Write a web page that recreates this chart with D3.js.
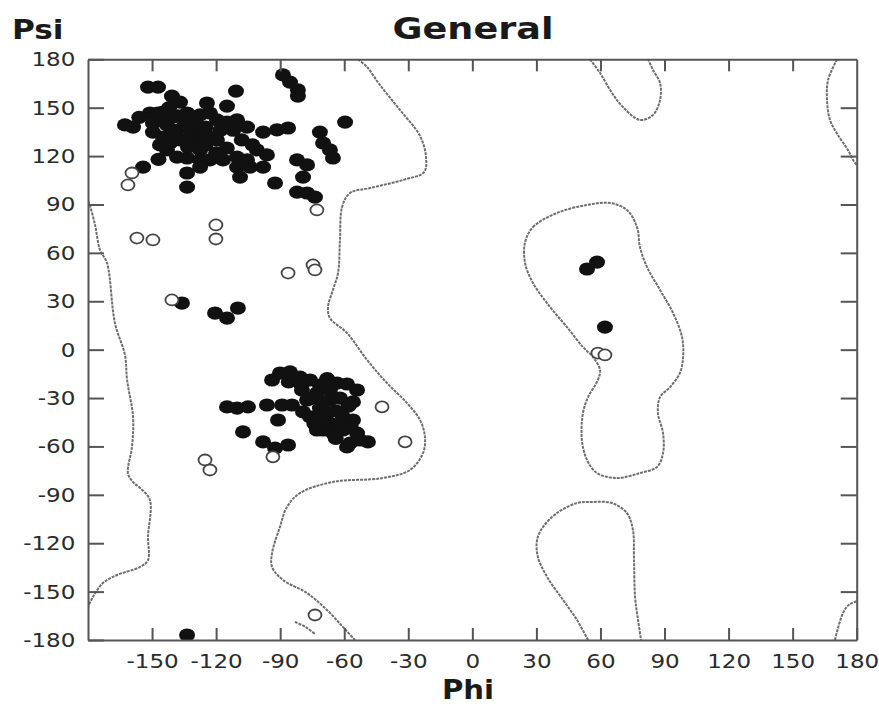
<!DOCTYPE html>
<html>
<head>
<meta charset="utf-8">
<script src="https://cdn.jsdelivr.net/npm/d3@7/dist/d3.min.js"></script>
<style>
  body { margin: 0; background: #fff; }
  svg { display: block; }
  text { font-family: "DejaVu Sans", Verdana, sans-serif; }
</style>
</head>
<body>
<div id="chart"></div>
<script>

// tick values
var phiTicks = [-150, -120, -90, -60, -30, 0, 30, 60, 90, 120, 150, 180];
var psiTicks = [-180, -150, -120, -90, -60, -30, 0, 30, 60, 90, 120, 150, 180];

// residues [phi, psi] - filled = favoured, open = allowed
var betaResidues = [
  [-162.7,139.3],[-158.9,138],[-154.2,113.2],[-151.9,162.8],[-147.2,162.8],[-151,146.7],[-147.2,146.7],
  [-144.9,147.3],[-140.7,157.2],[-136.9,153.5],[-124.3,152.9],[-114.9,151],[-110.7,160.3],[-140.2,144.2],
  [-133.6,146.7],[-133.6,143.6],[-127.5,145.5],[-122.9,146.7],[-119.6,142.4],[-114.9,141.1],[-110.2,142.4],
  [-105.5,138],[-98,134.9],[-91.5,136.2],[-86.3,137.4],[-149.6,140.5],[-143,139.3],[-135.5,138],[-129,134.9],
  [-122.9,131.8],[-149.6,134.9],[-144.9,131.8],[-138.3,131.8],[-146.3,126.9],[-141.6,128.1],[-136.9,130],
  [-133.2,125.6],[-127.5,130],[-119.6,130],[-143,123.8],[-138.3,119.4],[-133.6,118.8],[-127.5,123.8],
  [-127.5,117.6],[-122.9,117.6],[-116.8,117.6],[-110.2,119.4],[-105.5,117.6],[-100.9,123.8],[-96.2,120.7],
  [-110.2,113.2],[-104.1,113.2],[-98,113.2],[-108.8,107],[-127.5,113.2],[-133.6,109.5],[-133.6,100.8],
  [-92.4,103.3],[-82.1,117.6],[-77.4,114.5],[-79.3,107],[-82.1,97.7],[-77.4,97.1],[-73.7,94.6],
  [-71.4,134.9],[-69.9,128.1],[-66.7,123.8],[-65.3,118.8],[-59.6,141.1],
  [-88.7,170.3],[-85.4,165.9],[-81.7,161],[-81.7,157.2],
  [-145,142],[-138,145],[-130,140],[-125,138],[-118,136],[-140,136],[-132,132],[-147,118],
  [-125,127],[-115,125],[-108,130],[-112,136],[-120,122],[-142,150],[-156,144],[-103,127]
];
var alphaResidues = [
  [-114.9,-35.5],[-110.2,-36.2],[-105.1,-35.5],[-96.2,-34.3],[-89.1,-34.3],[-84.5,-34.3],[-91,-43.6],
  [-107.4,-51],[-98,-57.2],[-92.4,-61],[-86.3,-59.1],[-93.8,-18.8],[-90.1,-14.5],[-85.4,-13.8],[-80.7,-17],
  [-76,-18.8],[-71.4,-21.9],[-66.7,-25],[-63.4,-20.7],[-58.7,-21.3],[-54,-25],[-55.9,-32.4],[-79.8,-25],
  [-77.4,-31.2],[-79.3,-38.6],[-76,-41.7],[-72.8,-26.9],[-71.4,-36.2],[-68.1,-39.3],[-66.7,-45.5],
  [-69.9,-49.8],[-65.3,-51.7],[-60.6,-49.8],[-55.9,-43.6],[-54,-51.7],[-57.3,-57.9],[-52.6,-56],
  [-48.9,-57.2],[-58.7,-60.3],[-72.8,-49.8],[-66.7,-31.2],[-60.6,-41.7],
  [-75,-30],[-70,-33],[-62,-30],[-58,-35],[-64,-38],[-72,-42],[-62,-46],[-57,-48],[-80,-22],
  [-86,-20],[-68,-18],[-74,-46],[-64,-55],
  [-120.5,22.7],[-114.9,19.6],[-109.8,25.8],[-136,28.9]
];
var otherResidues = [[58.4,54.3],[53.7,50],[62.1,14],[-133.6,-176.9]];
var allowedResidues = [
  [-72.8,86.6],[-159.4,109.5],[-161.3,102.1],[-157.1,69.2],[-149.6,68],[-120.1,77.3],[-120.1,68.6],
  [-86.3,47.5],[-74.6,52.5],[-73.7,49.4],[-140.7,30.8],[-42.3,-35.5],[-31.5,-57.2],[-93.4,-66.5],
  [-125.2,-68.4],[-122.9,-74.6],[-73.7,-164.5],[58.8,-2.1],[62.1,-3.3]
];

// allowed-region contour lines [phi, psi]
var contourBetaAlphaRight = [
  [-53.6,180],[-49.3,175.2],[-43.3,164.1],[-33.9,148.6],[-24.5,132.5],[-21.7,119.4],[-22.6,110.1],
  [-32.5,105.2],[-47.9,100.2],[-57.3,97.1],[-61,88.4],[-62,68],[-62.9,47.5],[-65.3,37],[-67.6,26.4],
  [-66.7,19.6],[-58.7,10.3],[-49.3,-6.4],[-40,-20.7],[-30.6,-33.1],[-24.5,-43.6],[-22.2,-54.1],
  [-23.1,-64.1],[-29.2,-74.6],[-41.9,-79.6],[-65.3,-82],[-80.7,-88.9],[-86.8,-97.5],[-90.1,-109.9],
  [-93.8,-126.1],[-93.8,-134.7],[-88.7,-142.8],[-77.4,-150.9],[-68.1,-161.4],[-60.6,-171.9],[-55,-180]
];
var contourLeftEdge = [
  [-180,92],[-179.5,90.9],[-176.7,77.3],[-174.4,61.8],[-171.1,53.7],[-167.4,16.5],[-162.7,-3.3],
  [-161.7,-18.8],[-158.9,-41.7],[-159.4,-60.3],[-161.3,-76.5],[-159,-82],[-155.6,-85.8],[-151,-93.2],
  [-151.9,-116.1],[-151.9,-130.4],[-155.6,-134.7],[-166.4,-139.7],[-173,-144.7],[-177.7,-153.3],[-180,-159.5]
];
var contourRightTop = [[170.8,180],[166.6,167.2],[166.1,154.8],[167.5,142.4],[171.2,133.1],[175.9,123.8],[178.3,117.6],[180,114.5]];
var contourRightBottom = [[169.8,-180],[173.6,-163.2],[176.5,-158],[180,-156]];
var contourTopMid = [[55.1,180],[59.8,171.5],[65.4,159.1],[70.5,150.4],[78.5,142.4],[84.6,145.5],[87.9,154.8],[87.9,165.3],[84.6,173.4],[82.3,180]];
var contourBottomMid = [
  [54.2,-180],[49,-167.6],[42.5,-155.2],[35,-140.9],[30.7,-128.5],[30.3,-118],[33.1,-109.9],[39.6,-101.3],
  [49,-95.1],[56.5,-94.4],[65.4,-95.1],[72.4,-101.3],[75.2,-111.8],[75.7,-130.4],[76.2,-153.3],[77.6,-167.6],[79,-180]
];
var contourLeftHanded = [
  [24.7,66.7],[28.4,76],[39.6,84.7],[53.7,89.7],[64.5,90.9],[72.4,86.6],[77.1,76],[78.5,63.6],[81.8,51.2],
  [87.9,37],[94,22.7],[98.2,7.8],[98.7,-4.6],[97.2,-14.5],[92.6,-23.2],[87.9,-29.4],[86.9,-39.3],[89.3,-51.7],
  [89.3,-64.1],[86.5,-72.7],[78.5,-76.5],[67.7,-79.6],[58.4,-76.5],[53.7,-68.4],[51.3,-56],[51.8,-39.3],
  [54.2,-29.4],[58.8,-18.8],[59.8,-12.6],[56.5,-4.6],[51.8,1.6],[44.3,14],[36.4,26.4],[28.4,41.3],[24.7,53.7]
];
var contourSmall = [[-83.1,-168.8],[-78,-172],[-73.7,-176.3]];

// layout
var margin = {top: 59.3, left: 88},
    width = 768.7,
    height = 580.7;

var svg = d3.select("#chart").append("svg")
    .attr("width", 879)
    .attr("height", 706);

var g = svg.append("g")
    .attr("transform", "translate(" + margin.left + "," + margin.top + ")");

var x = d3.scaleLinear().domain([-180, 180]).range([0, width]);
var y = d3.scaleLinear().domain([-180, 180]).range([height, 0]);

g.append("clipPath").attr("id", "plotclip")
    .append("rect").attr("width", width).attr("height", height);

var plot = g.append("g").attr("clip-path", "url(#plotclip)");

// contours
var line = d3.line()
    .x(function(d){ return x(d[0]); })
    .y(function(d){ return y(d[1]); })
    .curve(d3.curveCatmullRom.alpha(0.5));

var openLines = [contourBetaAlphaRight, contourLeftEdge, contourRightTop, contourRightBottom,
                 contourTopMid, contourBottomMid, contourSmall];
plot.selectAll("path.contour")
    .data(openLines)
    .enter().append("path")
    .attr("class", "contour")
    .attr("d", line)
    .attr("fill", "none")
    .attr("stroke", "#6e6e6e")
    .attr("stroke-width", 2)
    .attr("stroke-dasharray", "3,1");

plot.append("path")
    .datum(contourLeftHanded)
    .attr("d", d3.line()
        .x(function(d){ return x(d[0]); })
        .y(function(d){ return y(d[1]); })
        .curve(d3.curveCatmullRomClosed.alpha(0.5)))
    .attr("fill", "none")
    .attr("stroke", "#6e6e6e")
    .attr("stroke-width", 2)
    .attr("stroke-dasharray", "3,1");

// residues
var filled = betaResidues.concat(alphaResidues, otherResidues);
plot.selectAll("ellipse.fav")
    .data(filled)
    .enter().append("ellipse")
    .attr("class", "fav")
    .attr("cx", function(d){ return x(d[0]); })
    .attr("cy", function(d){ return y(d[1]); })
    .attr("rx", 8)
    .attr("ry", 6.6)
    .attr("fill", "#111");

plot.selectAll("ellipse.allowed")
    .data(allowedResidues)
    .enter().append("ellipse")
    .attr("class", "allowed")
    .attr("cx", function(d){ return x(d[0]); })
    .attr("cy", function(d){ return y(d[1]); })
    .attr("rx", 6.5)
    .attr("ry", 5.5)
    .attr("fill", "#fff")
    .attr("stroke", "#444")
    .attr("stroke-width", 1.8);

// axes, ticks pointing inward
var axisColor = "#555";
var plain = function(d){ return String(d); };   // hyphen minus, like the original
function styleAxis(sel) {
    sel.select(".domain").attr("stroke", axisColor).attr("stroke-width", 2);
    sel.selectAll(".tick line").attr("stroke", axisColor).attr("stroke-width", 2);
    sel.selectAll(".tick text")
        .attr("fill", "#2b2b2b")
        .style("font-size", "20px")
        .style("font-family", "'DejaVu Sans', sans-serif");
}

g.append("g")
    .call(d3.axisTop(x).tickValues(phiTicks.slice(0, -1)).tickSizeInner(-12).tickSizeOuter(0).tickFormat(""))
    .call(styleAxis);

g.append("g")
    .attr("transform", "translate(" + width + ",0)")
    .call(d3.axisRight(y).tickValues(psiTicks.slice(1, -1)).tickSizeInner(-16).tickSizeOuter(0).tickFormat(""))
    .call(styleAxis);

var xAxis = g.append("g")
    .attr("transform", "translate(0," + height + ")")
    .call(d3.axisBottom(x).tickValues(phiTicks).tickSizeInner(-12).tickSizeOuter(0).tickPadding(14).tickFormat(plain))
    .call(styleAxis);
xAxis.selectAll(".tick text")
    .attr("transform", "scale(1.15,1)");

var yAxis = g.append("g")
    .call(d3.axisLeft(y).tickValues(psiTicks).tickSizeInner(-16).tickSizeOuter(0).tickPadding(11).tickFormat(plain))
    .call(styleAxis);
yAxis.selectAll(".tick text")
    .attr("transform", "scale(1.15,1)");

// titles
svg.append("text")
    .attr("transform", "translate(473,39) scale(1.22,1)")
    .attr("text-anchor", "middle")
    .style("font-size", "30px")
    .style("font-weight", "bold")
    .attr("fill", "#1a1a1a")
    .text("General");

svg.append("text")
    .attr("transform", "translate(12,39) scale(1.2,1)")
    .style("font-size", "26px")
    .style("font-weight", "bold")
    .attr("fill", "#1a1a1a")
    .text("Psi");

svg.append("text")
    .attr("transform", "translate(442,699) scale(1.08,1)")
    .style("font-size", "27px")
    .style("font-weight", "bold")
    .attr("fill", "#1a1a1a")
    .text("Phi");

</script>
</body>
</html>
